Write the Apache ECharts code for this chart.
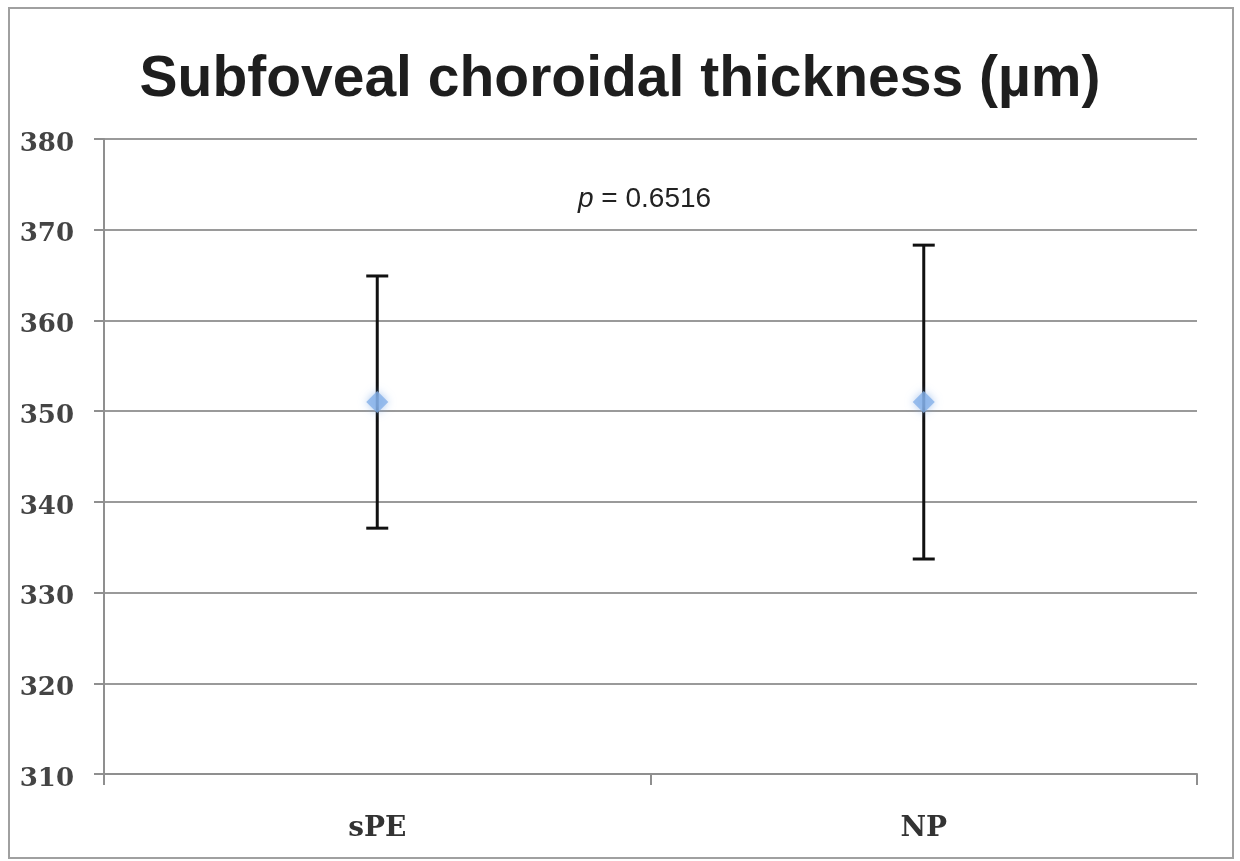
<!DOCTYPE html>
<html>
<head>
<meta charset="utf-8">
<title>Subfoveal choroidal thickness</title>
<script src="https://cdn.jsdelivr.net/npm/echarts@6/dist/echarts.min.js"></script>
<style>
  html, body { margin: 0; padding: 0; background: #fff; }
  #chart { width: 1240px; height: 861px; }
</style>
</head>
<body>
<div id="chart"></div>
<script>
// groups and values (µm)
const categories = ['sPE', 'NP']
const means = [351.0, 351.0]
const lower = [337.1, 333.7] // lower end of error bar
const upper = [364.9, 368.3] // upper end of error bar
const yTicks = [310, 320, 330, 340, 350, 360, 370, 380]
const pText = '0.6516'

const chart = echarts.init(document.getElementById('chart'))

const errData = categories.map((c, i) => [i, lower[i], upper[i]])

const option = {
  backgroundColor: '#fff',
  animation: false,
  title: {
    text: 'Subfoveal choroidal thickness (µm)',
    left: 'center',
    top: 47,
    textStyle: {
      fontFamily: 'Liberation Sans, Arial, sans-serif',
      fontWeight: 'bold',
      fontSize: 57,
      color: '#1e1e1e',
    },
  },
  grid: { left: 104, right: 43, top: 139, bottom: 87 },
  xAxis: {
    type: 'category',
    data: categories,
    axisLine: { lineStyle: { color: '#8f8f8f', width: 2 } },
    axisTick: { show: true, length: 11, lineStyle: { color: '#8f8f8f', width: 2 } },
    axisLabel: {
      margin: 41,
      fontFamily: 'DejaVu Serif, serif',
      fontWeight: 'bold',
      fontSize: 28,
      color: '#333',
    },
    splitLine: { show: false },
  },
  yAxis: {
    type: 'value',
    min: yTicks[0],
    max: yTicks[yTicks.length - 1],
    interval: 10,
    axisLine: { show: true, lineStyle: { color: '#8f8f8f', width: 2 } },
    axisTick: { show: true, length: 10, lineStyle: { color: '#8f8f8f', width: 2 } },
    axisLabel: {
      margin: 30,
      formatter: '{v|{value}}',
      rich: {
        v: {
          padding: [10, 0, 0, 0],
          fontFamily: 'DejaVu Serif, serif',
          fontWeight: 'bold',
          fontSize: 26,
          color: '#444',
        },
      },
    },
    splitLine: { lineStyle: { color: '#9a9a9a', width: 2 } },
  },
  graphic: [
    {
      type: 'rect',
      shape: { x: 9, y: 8, width: 1224, height: 850 },
      style: { fill: 'none', stroke: '#a0a0a0', lineWidth: 2 },
      silent: true,
    },
    {
      type: 'text',
      left: 578,
      top: 185,
      style: {
        text: '{i|p} = ' + pText,
        rich: {
          i: { fontStyle: 'italic', fontFamily: 'Liberation Sans, Arial, sans-serif', fontSize: 28, fill: '#222' },
        },
        fontFamily: 'Liberation Sans, Arial, sans-serif',
        fontSize: 28,
        fill: '#222',
      },
    },
  ],
  series: [
    {
      type: 'custom',
      data: errData,
      z: 2,
      renderItem: function (params, api) {
        const x = api.value(0)
        const lo = api.coord([x, api.value(1)])
        const hi = api.coord([x, api.value(2)])
        const cap = 11
        const st = { stroke: '#111', lineWidth: 3 }
        return {
          type: 'group',
          children: [
            { type: 'line', shape: { x1: lo[0], y1: lo[1], x2: hi[0], y2: hi[1] }, style: st },
            { type: 'line', shape: { x1: hi[0] - cap, y1: hi[1], x2: hi[0] + cap, y2: hi[1] }, style: st },
            { type: 'line', shape: { x1: lo[0] - cap, y1: lo[1], x2: lo[0] + cap, y2: lo[1] }, style: st },
          ],
        }
      },
    },
    {
      type: 'scatter',
      data: means,
      z: 3,
      symbol: 'diamond',
      symbolSize: 22,
      itemStyle: {
        color: '#85b0e8',
        shadowBlur: 8,
        shadowColor: 'rgba(110,160,230,0.7)',
      },
    },
  ],
}

chart.setOption(option)
</script>
</body>
</html>
